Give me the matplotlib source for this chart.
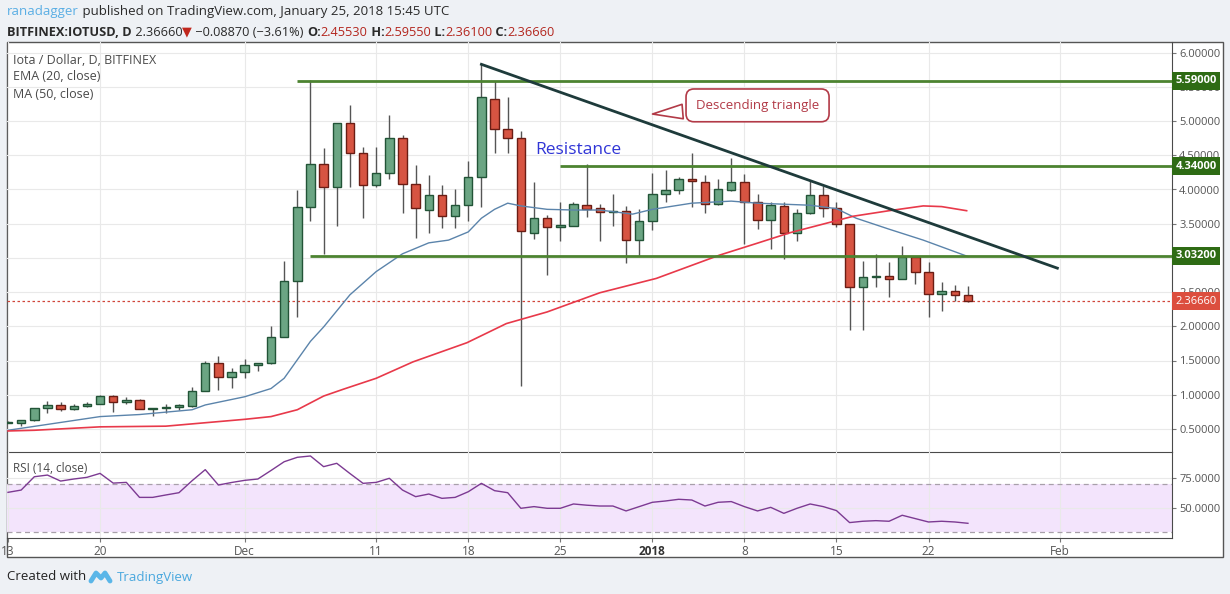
import numpy as np
import pandas as pd
import matplotlib
matplotlib.use("Agg")
import matplotlib.pyplot as plt
from matplotlib.patches import Rectangle
from matplotlib.ticker import FormatStrFormatter

plt.rcParams['font.family'] = ['Open Sans', 'DejaVu Sans']

W, H = 1230, 594

# ---- data (IOT/USD daily, Bitfinex) ----
start = pd.Timestamp('2017-11-13')
dates = pd.date_range(start, '2018-01-25', freq='D')

opens = [0.59, 0.59, 0.625, 0.80, 0.845, 0.795, 0.83, 0.87, 0.98, 0.90,
         0.92, 0.79, 0.80, 0.82, 0.84, 1.05, 1.46, 1.26, 1.33, 1.44,
         1.46, 1.85, 2.66, 3.75, 4.37, 4.03, 4.97, 4.54, 4.06, 4.24,
         4.75, 4.08, 3.70, 3.92, 3.61, 3.77, 4.18, 5.33, 4.89, 4.76,
         3.37, 3.58, 3.45, 3.47, 3.78, 3.73, 3.67, 3.69, 3.26, 3.54,
         3.93, 4.00, 4.15, 4.11, 3.79, 4.00, 4.11, 3.81, 3.55, 3.76,
         3.37, 3.65, 3.92, 3.73, 3.49, 2.57, 2.72, 2.74, 2.69, 3.01,
         2.79, 2.47, 2.52, 2.4553]
highs = [0.62, 0.63, 0.81, 0.91, 0.89, 0.865, 0.90, 0.99, 1.00, 0.96,
         0.93, 0.81, 0.87, 0.87, 1.11, 1.49, 1.56, 1.39, 1.52, 1.47,
         2.00, 2.95, 3.99, 5.60, 4.60, 4.97, 5.24, 4.62, 4.62, 5.09,
         4.80, 4.36, 4.21, 4.07, 4.00, 4.41, 5.83, 5.58, 5.35, 4.86,
         4.11, 3.63, 3.82, 3.82, 4.37, 3.79, 3.93, 3.76, 3.71, 4.24,
         4.29, 4.19, 4.54, 4.21, 4.16, 4.46, 4.22, 3.94, 3.82, 3.82,
         3.71, 4.13, 4.05, 3.81, 3.49, 2.95, 3.05, 2.94, 3.17, 3.01,
         2.94, 2.65, 2.60, 2.5955]
lows = [0.58, 0.54, 0.62, 0.73, 0.76, 0.78, 0.82, 0.86, 0.75, 0.87,
        0.79, 0.69, 0.73, 0.78, 0.82, 1.05, 1.07, 1.10, 1.24, 1.35,
        1.45, 1.85, 2.14, 3.54, 3.06, 3.46, 4.04, 3.59, 4.04, 4.16,
        3.66, 3.29, 3.36, 3.43, 3.44, 3.54, 3.74, 4.53, 4.54, 1.12,
        3.28, 2.75, 3.24, 3.46, 3.60, 3.24, 3.46, 2.93, 3.03, 3.41,
        3.82, 3.94, 3.74, 3.65, 3.78, 3.98, 3.20, 3.42, 3.13, 2.98,
        3.25, 3.64, 3.60, 3.45, 1.95, 1.95, 2.58, 2.43, 2.69, 2.62,
        2.14, 2.23, 2.37, 2.361]
closes = [0.60, 0.625, 0.80, 0.845, 0.795, 0.83, 0.87, 0.98, 0.90, 0.92,
          0.79, 0.80, 0.82, 0.85, 1.05, 1.46, 1.26, 1.33, 1.44, 1.46,
          1.85, 2.66, 3.75, 4.38, 4.03, 4.97, 4.54, 4.06, 4.24, 4.75,
          4.08, 3.73, 3.92, 3.61, 3.78, 4.18, 5.35, 4.89, 4.76, 3.40,
          3.58, 3.45, 3.48, 3.79, 3.72, 3.67, 3.69, 3.26, 3.54, 3.93,
          4.00, 4.15, 4.12, 3.79, 4.00, 4.11, 3.81, 3.55, 3.77, 3.37,
          3.65, 3.92, 3.73, 3.49, 2.57, 2.72, 2.74, 2.69, 3.01, 2.79,
          2.47, 2.52, 2.4553, 2.3666]

# EMA(20) / MA(50) as read at a number of days (days after Nov 13)
ema_days = [0, 7, 10, 14, 15, 18, 20, 21, 22, 23, 24, 26, 28, 30, 32, 33.5,
            35, 36, 37, 38, 39, 41, 43, 45, 47.5, 49, 52, 55, 57, 61, 63,
            64.5, 67, 69.6, 73]
ema_vals = [0.48, 0.68, 0.71, 0.78, 0.85, 0.97, 1.09, 1.24, 1.51, 1.78, 1.99,
            2.46, 2.80, 3.06, 3.22, 3.26, 3.38, 3.58, 3.71, 3.80, 3.76, 3.71,
            3.70, 3.70, 3.64, 3.71, 3.80, 3.83, 3.80, 3.77, 3.72, 3.58, 3.42,
            3.26, 3.02]
ma_days = [0, 2, 7, 12, 18, 20, 22, 24, 25.5, 28, 30.8, 34.9, 37.9, 41, 45,
           49.3, 54.1, 56.9, 59.5, 62.7, 64.3, 67, 69.6, 71, 72.9]
ma_vals = [0.47, 0.48, 0.53, 0.54, 0.64, 0.68, 0.78, 0.98, 1.08, 1.24, 1.48,
           1.76, 2.04, 2.21, 2.49, 2.70, 3.04, 3.21, 3.37, 3.53, 3.61, 3.69,
           3.76, 3.75, 3.69]

rsi_vals = [63.3, 65.2, 76.3, 77.7, 72.7, 74.4, 75.8, 79.1, 71.0, 71.6,
            59.1, 59.1, 61.1, 63.0, 73.0, 82.2, 69.4, 71.5, 73.3, 74.4,
            81.5, 88.8, 92.5, 93.6, 84.7, 87.5, 79.0, 70.8, 71.6, 75.0,
            65.2, 59.7, 61.9, 58.3, 59.1, 63.8, 70.8, 64.7, 63.0, 50.0,
            51.4, 50.0, 50.0, 53.6, 52.6, 51.9, 51.9, 47.8, 51.4, 55.0,
            56.1, 57.5, 56.9, 51.9, 55.0, 55.6, 51.4, 47.8, 50.8, 45.8,
            50.0, 53.6, 51.4, 48.1, 38.1, 39.2, 39.7, 39.2, 44.2, 41.4,
            38.6, 39.2, 38.6, 37.5]

# drawn levels: price and first day
levels = [5.59, 4.34, 3.032]
level_from = ['2017-12-05', '2017-12-25', '2017-12-06']
trend_days = [36, 79.8]
trend_prices = [5.83, 2.85]

tick_dates = ['2017-11-13', '2017-11-20', '2017-12-01', '2017-12-11', '2017-12-18',
              '2017-12-25', '2018-01-01', '2018-01-08', '2018-01-15', '2018-01-22',
              '2018-02-01']
tick_labels = ['13', '20', 'Dec', '11', '18', '25', '2018', '8', '15', '22', 'Feb']


def day(d):
    return (pd.Timestamp(d) - start).days


def fx(x):
    return x / W


def fy(y):
    return 1 - y / H


x = np.arange(len(dates))
o = np.array(opens)
c = np.array(closes)

fig = plt.figure(figsize=(W / 100, H / 100), dpi=100, facecolor='#eef1f5')

# white chart frame
fig.patches.append(Rectangle((fx(7), fy(557.3)), (1223.3 - 7) / W, (557.3 - 42) / H,
                             transform=fig.transFigure, fc='white', ec='#555555',
                             lw=1, zorder=-5))

left, right = 7, 1172.3
ax = fig.add_axes([fx(left), fy(451.7), (right - left) / W, (451.7 - 42) / H])
rax = fig.add_axes([fx(left), fy(537.7), (right - left) / W, (537.7 - 451.7) / H], sharex=ax)

xmin, xmax = (left - 8) / 13.15, (right - 8) / 13.15
for a in (ax, rax):
    a.set_facecolor('none')
    for s in ('top', 'left'):
        a.spines[s].set_visible(False)
    for s in ('right', 'bottom'):
        a.spines[s].set_color('#4a4a4a')
    a.yaxis.tick_right()
    a.grid(True, color='#e9e9e9', lw=0.8, zorder=0)
    a.set_axisbelow(True)
    a.tick_params(axis='y', labelsize=8, labelcolor='#555555', color='#777777',
                  length=3, pad=2)

# ---- price pane ----
ax.set_xlim(xmin, xmax)
ax.set_ylim(6 - (451.7 - 52.7) / 68.4, 6 + (52.7 - 42) / 68.4)
ax.set_yticks(np.arange(0.5, 6.01, 0.5))
ax.yaxis.set_major_formatter(FormatStrFormatter('%.5f'))
ax.tick_params(axis='x', bottom=False, labelbottom=False)

up = c >= o
ax.vlines(x, lows, highs, color='#555555', lw=1, zorder=2)
ax.bar(x, np.maximum(np.abs(c - o), 0.015), bottom=np.minimum(o, c), width=0.64,
       color=np.where(up, '#6ba583', '#d75442'),
       edgecolor=np.where(up, '#225437', '#6b1d14'), lw=1, zorder=3)

ax.plot(ema_days, ema_vals, color='#5b84ab', lw=1, zorder=4)
ax.plot(ma_days, ma_vals, color='#e8394a', lw=1.2, zorder=4)

for lv, d0 in zip(levels, level_from):
    ax.hlines(lv, day(d0), xmax, color='#4c8330', lw=2, zorder=5)
ax.plot(trend_days, trend_prices, color='#1e3b3b', lw=2, zorder=5)
ax.axhline(closes[-1], color='#d0463a', lw=0.9, ls=(0, (2, 2)), zorder=1)

# price labels on the axis
yt = ax.get_yaxis_transform()
lab_x = 1 + 3.0 / (right - left)
for lv in levels:
    ax.text(lab_x, lv, '%.5f' % lv, transform=yt, va='center', ha='left', color='white',
            fontsize=8, fontweight='bold', clip_on=False, zorder=10,
            bbox=dict(boxstyle='square,pad=0.3', fc='#2e6b14', ec='none'))
ax.text(lab_x, closes[-1], '%.5f' % closes[-1], transform=yt, va='center', ha='left',
        color='white', fontsize=8, clip_on=False, zorder=10,
        bbox=dict(boxstyle='square,pad=0.3', fc='#dc4e3e', ec='none'))

ax.text(40.1, 4.58, 'Resistance', color='#3035d6', fontsize=12.5, va='center', ha='left')
ax.annotate('Descending triangle', xy=(48.8, 5.10), xytext=(57.0, 5.23),
            ha='center', va='center', color='#b23a47', fontsize=9.5, zorder=8,
            bbox=dict(boxstyle='round,pad=0.75,rounding_size=0.6', fc='white',
                      ec='#b23a47', lw=1.2),
            arrowprops=dict(arrowstyle='wedge,tail_width=1.1,shrink_factor=0.5',
                            fc='white', ec='#b23a47', lw=1.2))

for i, s in enumerate(['Iota / Dollar, D, BITFINEX', 'EMA (20, close)', 'MA (50, close)']):
    fig.text(fx(13), fy(60 + 17 * i), s, fontsize=9, color='#4a4a4a', va='center')

# ---- RSI pane ----
rax.set_ylim(50 - (537.7 - 508.3) / 1.2, 50 + (508.3 - 451.7) / 1.2)
rax.axhspan(30, 70, color='#f3e4fc', zorder=0, lw=0)
for lv in (30, 70):
    rax.axhline(lv, color='#a8a0aa', lw=0.9, ls=(0, (4, 3)), zorder=1)
rax.plot(x, rsi_vals, color='#7c3a92', lw=1, zorder=3)
rax.set_yticks([50, 75])
rax.yaxis.set_major_formatter(FormatStrFormatter('%.4f'))
rax.set_xticks([day(d) for d in tick_dates])
rax.set_xticklabels(tick_labels)
rax.tick_params(axis='x', labelsize=8.5, labelcolor='#555555', color='#777777',
                length=3, pad=2.5)
for lab in rax.get_xticklabels():
    if lab.get_text() == '2018':
        lab.set_fontweight('bold')
        lab.set_color('#333333')
fig.text(fx(13), fy(468), 'RSI (14, close)', fontsize=8.5, color='#4a4a4a', va='center')

# ---- header and footer ----
renderer = fig.canvas.get_renderer()


def text_row(xp, yp, pieces, size):
    for s, col, wt in pieces:
        t = fig.text(fx(xp), fy(yp), s, color=col, fontsize=size, fontweight=wt,
                     va='center', ha='left')
        xp += t.get_window_extent(renderer=renderer).width


dark, red = '#2a2a2a', '#b3261e'
text_row(7, 12, [('ranadagger', '#5aaee4', 'normal'),
                 (' published on TradingView.com, January 25, 2018 15:45 UTC', dark, 'normal')], 9.5)
text_row(7, 32, [('BITFINEX:IOTUSD, D', dark, 'bold'), (' 2.36660', dark, 'normal'),
                 ('\u25bc', '#c0271d', 'normal'),
                 (' \u22120.08870 (\u22123.61%) ', dark, 'normal'),
                 ('O:', dark, 'bold'), ('2.45530', red, 'normal'),
                 (' H:', dark, 'bold'), ('2.59550', red, 'normal'),
                 (' L:', dark, 'bold'), ('2.36100', red, 'normal'),
                 (' C:', dark, 'bold'), ('2.36660', red, 'normal')], 9.2)

fig.text(fx(7), fy(577), 'Created with', fontsize=9.5, color='#222222', va='center')
fig.lines.append(plt.Line2D([fx(91), fx(96), fx(101), fx(105), fx(110)],
                            [fy(581), fy(573), fy(578), fy(573), fy(581)],
                            transform=fig.transFigure, color='#5ab6e8', lw=3.5,
                            solid_joinstyle='round', solid_capstyle='round'))
fig.text(fx(117), fy(577), 'TradingView', fontsize=9.5, color='#4aa8de', va='center')

fig.savefig('out.png', dpi=100, facecolor=fig.get_facecolor())
